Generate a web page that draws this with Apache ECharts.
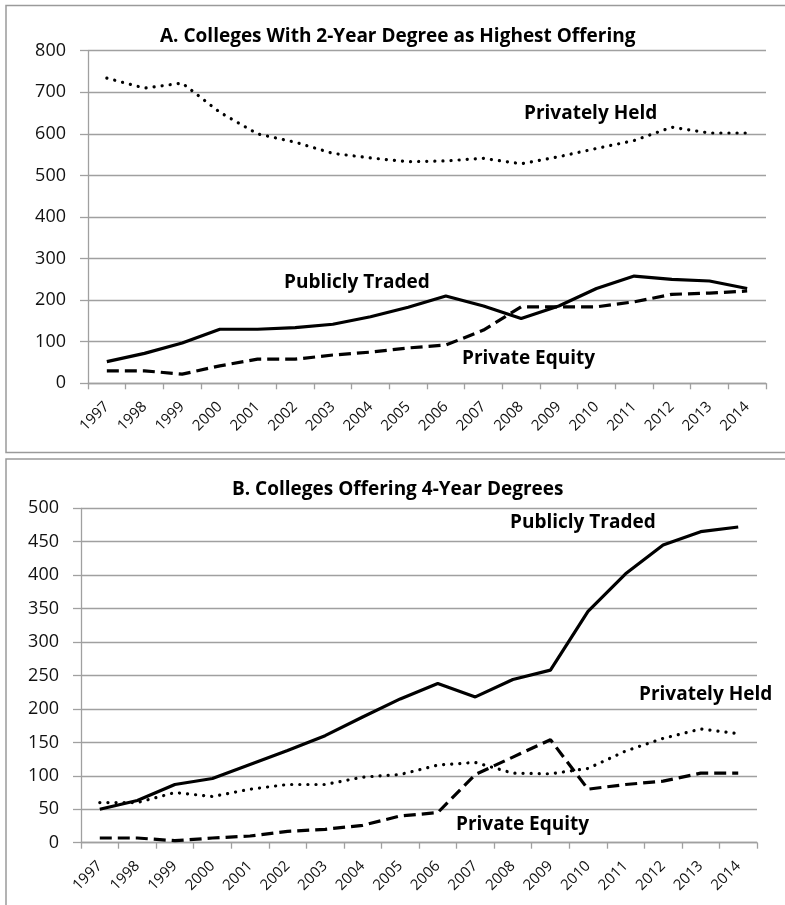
<!DOCTYPE html>
<html lang="en">
<head>
    <meta charset="UTF-8">
    <title>Colleges by ownership</title>
    <script src="https://cdn.jsdelivr.net/npm/echarts@6/dist/echarts.min.js"></script>
    <style>
        body { margin: 0; background: #fff; }
    </style>
</head>
<body>
    <div id="main" style="width:785px; height:905px;"></div>
    <script>
        // years on the x axis
        var years = ['1997', '1998', '1999', '2000', '2001', '2002', '2003', '2004', '2005',
            '2006', '2007', '2008', '2009', '2010', '2011', '2012', '2013', '2014'];

        // panel A: 2-year degree as highest offering
        var aPrivatelyHeld = [734, 710, 722, 652, 600, 580, 553, 542, 533, 535, 541, 528, 545, 565, 584, 616, 602, 602];
        var aPubliclyTraded = [52, 72, 97, 130, 130, 134, 142, 160, 183, 210, 186, 156, 186, 228, 258, 250, 246, 228];
        var aPrivateEquity = [30, 30, 22, 42, 58, 58, 68, 75, 85, 92, 128, 184, 184, 184, 196, 214, 217, 222];

        // panel B: offering 4-year degrees
        var bPubliclyTraded = [50, 63, 87, 96, 117, 138, 160, 188, 215, 238, 218, 244, 258, 346, 402, 445, 465, 472];
        var bPrivatelyHeld = [60, 60, 75, 69, 80, 87, 87, 98, 102, 116, 120, 104, 103, 111, 137, 156, 170, 163];
        var bPrivateEquity = [7, 7, 3, 7, 10, 17, 20, 26, 40, 45, 102, 128, 154, 80, 87, 92, 104, 104];

        var myChart = echarts.init(document.getElementById('main'));

        var fontName = '"Open Sans"';
        var gray = '#a0a0a0';

        function xAxisFor(idx) {
            return {
                type: 'category',
                gridIndex: idx,
                data: years,
                boundaryGap: true,
                axisLine: { lineStyle: { color: gray, width: 1.3 } },
                axisTick: { show: true, length: 6, lineStyle: { color: gray, width: 1.3 } },
                axisLabel: { rotate: 45, color: '#111', fontFamily: fontName, fontSize: 15, margin: 21, interval: 0 }
            };
        }

        function yAxisFor(idx, max, step) {
            return {
                type: 'value',
                gridIndex: idx,
                min: 0,
                max: max,
                interval: step,
                axisLine: { show: true, lineStyle: { color: gray, width: 1.3 } },
                axisTick: { show: true, length: 8, lineStyle: { color: gray, width: 1.3 } },
                splitLine: { lineStyle: { color: gray, width: 1.3 } },
                axisLabel: { color: '#111', fontFamily: fontName, fontSize: 18, margin: 22 }
            };
        }

        var solid = { color: '#000', width: 3.2, type: 'solid' };
        var dashed = { color: '#000', width: 3.2, type: [12, 6] };
        var dotted = { color: '#000', width: 3.2, type: [0.1, 8], cap: 'round' };

        function line(name, data, idx, style) {
            return {
                name: name,
                type: 'line',
                xAxisIndex: idx,
                yAxisIndex: idx,
                data: data,
                symbol: 'none',
                lineStyle: style,
                silent: true
            };
        }

        // bold callouts placed next to each line
        function note(text, x, y) {
            return {
                type: 'text',
                left: x,
                top: y,
                style: { text: text, font: 'bold 19px ' + fontName, fill: '#000' }
            };
        }

        var option = {
            animation: false,
            title: [
                {
                    text: 'A. Colleges With 2-Year Degree as Highest Offering',
                    left: 160, top: 27, padding: 0,
                    textStyle: { fontFamily: fontName, fontWeight: 'bold', fontSize: 19, color: '#000' }
                },
                {
                    text: 'B. Colleges Offering 4-Year Degrees',
                    left: 232, top: 480, padding: 0,
                    textStyle: { fontFamily: fontName, fontWeight: 'bold', fontSize: 19, color: '#000' }
                }
            ],
            grid: [
                { left: 88, top: 50.7, width: 678, height: 332.6 },
                { left: 81, top: 508.3, width: 676, height: 334.4 }
            ],
            xAxis: [xAxisFor(0), xAxisFor(1)],
            yAxis: [yAxisFor(0, 800, 100), yAxisFor(1, 500, 50)],
            series: [
                line('Privately Held', aPrivatelyHeld, 0, dotted),
                line('Publicly Traded', aPubliclyTraded, 0, solid),
                line('Private Equity', aPrivateEquity, 0, dashed),
                line('Publicly Traded', bPubliclyTraded, 1, solid),
                line('Privately Held', bPrivatelyHeld, 1, dotted),
                line('Private Equity', bPrivateEquity, 1, dashed)
            ],
            graphic: [
                { type: 'rect', shape: { x: 6, y: 5.5, width: 820, height: 447 }, style: { fill: 'none', stroke: '#9a9a9a', lineWidth: 1.5 }, z: -1 },
                { type: 'rect', shape: { x: 6, y: 459, width: 820, height: 470 }, style: { fill: 'none', stroke: '#9a9a9a', lineWidth: 1.5 }, z: -1 },
                note('Privately Held', 524, 104),
                note('Publicly Traded', 284, 273),
                note('Private Equity', 462, 349),
                note('Publicly Traded', 510, 513),
                note('Privately Held', 639, 685),
                note('Private Equity', 456, 815)
            ]
        };
        myChart.setOption(option);
    </script>
</body>
</html>
